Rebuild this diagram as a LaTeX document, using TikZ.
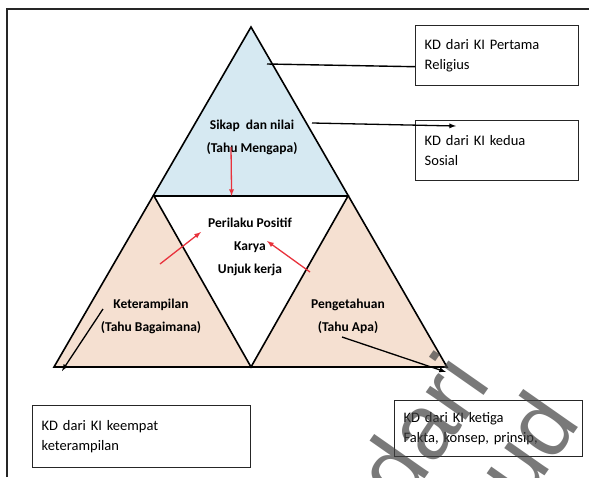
\documentclass[tikz,border=0pt]{standalone}
\usepackage{fontspec}
\setmainfont{Carlito}
\newfontfamily\wmfont{Liberation Sans}
\usetikzlibrary{arrows,calc}

\definecolor{skyfill}{HTML}{D6E9F2}
\definecolor{tanfill}{HTML}{F5E0D1}
\definecolor{arrred}{HTML}{E8323C}

\tikzset{
  kdbox/.style={draw=black!85, line width=1.4pt, align=left, inner xsep=9pt,
    font=\fontsize{14.5}{20}\selectfont, anchor=north west},
  tlabel/.style={align=center, font=\bfseries\fontsize{13.5}{23}\selectfont},
  redarr/.style={->, >=latex, draw=arrred, line width=1.3pt},
  blkarr/.style={->, >=latex, line width=1.3pt},
  wmark/.style={text=black!75, opacity=.7, font=\wmfont\fontsize{92}{92}\selectfont, rotate=55},
}

\begin{document}
\begin{tikzpicture}[x=1pt,y=-1pt]
\useasboundingbox (0,0) rectangle (589,477);
\draw[black!85, line width=1.4pt] (7,477) -- (7,9) -- (589,9);

% corners of the triangle
\coordinate (top) at (251,27);
\coordinate (ml) at (154,196);
\coordinate (mr) at (348,196);
\coordinate (bl) at (54,367);
\coordinate (bm) at (251,367);
\coordinate (br) at (447,367);

\fill[skyfill] (top) -- (ml) -- (mr) -- cycle;
\fill[tanfill] (ml) -- (bl) -- (bm) -- cycle;
\fill[tanfill] (mr) -- (bm) -- (br) -- cycle;
\draw[line width=1.6pt] (top) -- (bl) -- (br) -- cycle;
\draw[line width=1.6pt] (ml) -- (mr) -- (bm) -- cycle;

\node[tlabel] (sikap) at (252,137) {Sikap\ \ dan nilai\\(Tahu Mengapa)};
\node[tlabel] (perilaku) at (250,247) {Perilaku Positif\\Karya\\Unjuk kerja};
\node[tlabel] (terampil) at (151,316) {Keterampilan\\(Tahu Bagaimana)};
\node[tlabel] (tahu) at (348,316) {Pengetahuan\\(Tahu Apa)};

\node[kdbox, text width=145pt, minimum height=60pt] (religius) at (415,25) {KD dari KI Pertama\\Religius};
\node[kdbox, text width=145pt, minimum height=60pt] (sosial) at (415,120) {KD dari KI kedua\\Sosial};
\node[kdbox, text width=200pt, minimum height=62pt] (keempat) at (32,405) {KD dari KI keempat\\keterampilan};
\node[kdbox, text width=170pt, minimum height=56pt] (ketiga) at (394,400) {KD dari KI ketiga\\Fakta, konsep, prinsip,};

% connectors
\coordinate (e1) at (267,64);
\coordinate (s1) at (312,123);
\coordinate (r0) at (231,147);
\coordinate (k0) at (160,264);
\coordinate (k1) at (201,232);
\coordinate (p0) at (310,272);
\coordinate (p1) at (267,241);
\coordinate (t0) at (103,309);
\coordinate (t1) at (62,371);
\coordinate (a0) at (342,337);
\coordinate (a1) at (446,372);

\draw[line width=1.4pt] (e1) -- ([yshift=-11pt]religius.west);
\draw[blkarr] (s1) -- ($(sosial.north west)+(41,6)$);
\draw[redarr] (r0) -- ($(ml)!0.4!(mr)$);
\draw[redarr] (k0) -- (k1);
\draw[redarr] (p0) -- (p1);
\draw[blkarr] (t0) -- (t1);
\draw[blkarr] (a0) -- (a1);

% watermark
\node[wmark] (wm1) at (421,428) {dari};
\node[wmark, anchor=base east] (wm2) at (584,420) {kemdikbud};
\end{tikzpicture}
\end{document}
